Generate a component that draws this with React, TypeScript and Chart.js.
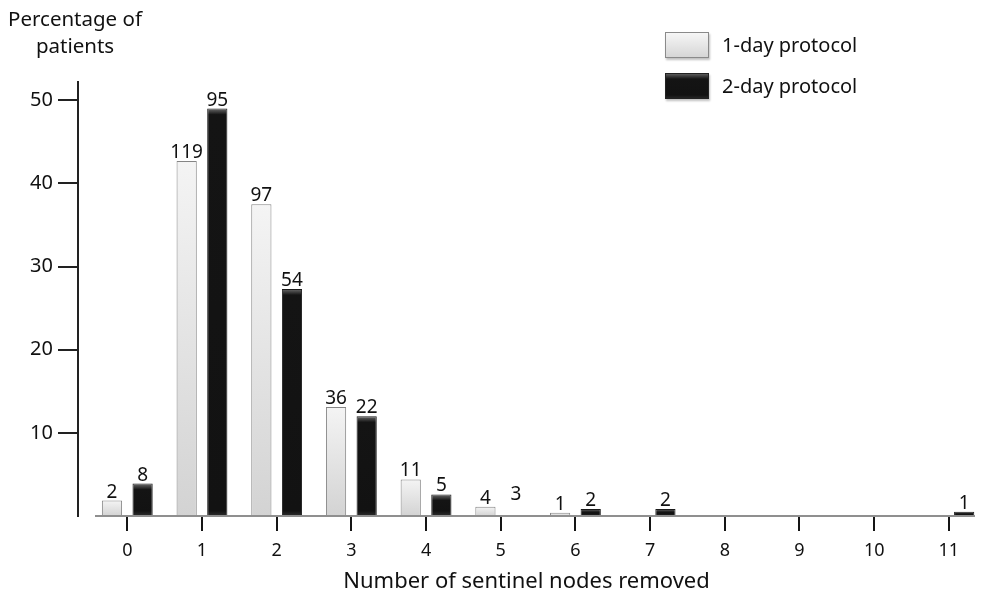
import { useEffect, useRef } from 'react';
import { Chart, registerables } from 'chart.js';

Chart.register(...registerables);

// ---- data ----
const nodeCounts = [0, 1, 2, 3, 4, 5, 6, 7, 8, 9, 10, 11];
const seriesNames = ['1-day protocol', '2-day protocol'];
const oneDayPercent = [1.85, 42.7, 37.5, 13.1, 4.4, 1.1, 0.4, null, null, null, null, null];
const twoDayPercent = [3.9, 49.0, 27.3, 12.0, 2.6, 1.6, 0.85, 0.85, null, null, null, 0.5];
const oneDayPatients = [2, 119, 97, 36, 11, 4, 1, null, null, null, null, null];
const twoDayPatients = [8, 95, 54, 22, 5, 3, 2, 2, null, null, null, 1];
const twoDayUndrawnBars = [5];
const yAxisTitleLines = ['Percentage of', 'patients'];
const xAxisTitle = 'Number of sentinel nodes removed';

const FONT = "'Noto Sans', 'DejaVu Sans', sans-serif";

function lightFill(c: any) {
  const chart = c.chart;
  const v = c.raw;
  if (v == null || !chart.chartArea || !chart.scales.y) return '#e4e4e4';
  const yTop = chart.scales.y.getPixelForValue(v);
  const yBot = chart.scales.y.getPixelForValue(0);
  if (!isFinite(yTop) || !isFinite(yBot) || yBot - yTop < 1) return '#e4e4e4';
  const g = chart.ctx.createLinearGradient(0, yTop, 0, yBot);
  g.addColorStop(0, '#f4f4f4');
  g.addColorStop(1, '#d3d3d3');
  return g;
}

function darkFill(c: any) {
  const chart = c.chart;
  const v = c.raw;
  if (c.dataIndex !== undefined && twoDayUndrawnBars.includes(c.dataIndex)) return 'rgba(0,0,0,0)';
  if (v == null || !chart.chartArea || !chart.scales.y) return '#151515';
  const yTop = chart.scales.y.getPixelForValue(v);
  const yBot = chart.scales.y.getPixelForValue(0);
  const h = yBot - yTop;
  if (!isFinite(h) || h < 1) return '#151515';
  const g = chart.ctx.createLinearGradient(0, yTop, 0, yBot);
  const s = Math.min(0.45, 6 / h);
  g.addColorStop(0, '#6b6b6b');
  g.addColorStop(s, '#141414');
  g.addColorStop(Math.max(s, 1 - Math.min(0.3, 5 / h)), '#121212');
  g.addColorStop(1, '#2e2e2e');
  return g;
}

function darkBorder(c: any) {
  if (c.dataIndex !== undefined && twoDayUndrawnBars.includes(c.dataIndex)) return 'rgba(0,0,0,0)';
  return '#1a1a1a';
}

const annotatePlugin = {
  id: 'annotate',
  beforeDatasetsDraw(chart: any) {
    const { ctx, chartArea, scales } = chart;
    const y0 = scales.y.getPixelForValue(0);
    ctx.save();
    ctx.strokeStyle = '#8f8f8f';
    ctx.lineWidth = 2;
    ctx.beginPath();
    ctx.moveTo(chartArea.left + 17, y0);
    ctx.lineTo(chartArea.right, y0);
    ctx.stroke();
    ctx.restore();
  },
  afterDatasetsDraw(chart: any) {
    const { ctx } = chart;
    const labelSets = [oneDayPatients, twoDayPatients];
    ctx.save();
    ctx.fillStyle = '#111';
    ctx.font = `19px ${FONT}`;
    ctx.textAlign = 'center';
    ctx.textBaseline = 'alphabetic';
    chart.data.datasets.forEach((_ds: any, di: number) => {
      const meta = chart.getDatasetMeta(di);
      meta.data.forEach((el: any, i: number) => {
        const n = labelSets[di][i];
        if (n == null) return;
        ctx.fillText(String(n), el.x, el.y - 3);
      });
    });
    ctx.restore();
  },
};

function Swatch({ dark }: { dark: boolean }) {
  return (
    <div
      style={{
        width: 44,
        height: 26,
        boxSizing: 'border-box',
        border: dark ? '1px solid #222' : '1px solid #8a8a8a',
        background: dark
          ? 'linear-gradient(to bottom, #5a5a5a 0px, #141414 5px, #121212 21px, #303030 26px)'
          : 'linear-gradient(to bottom, #f6f6f6, #d6d6d6)',
        boxShadow: '1px 2px 2px rgba(0,0,0,0.25)',
      }}
    />
  );
}

export default function App() {
  const canvasRef = useRef<HTMLCanvasElement | null>(null);

  useEffect(() => {
    if (!canvasRef.current) return;
    const chart = new Chart(canvasRef.current, {
      type: 'bar',
      data: {
        labels: nodeCounts,
        datasets: [
          {
            label: seriesNames[0],
            data: oneDayPercent as any,
            backgroundColor: lightFill as any,
            borderColor: '#858585',
            borderWidth: 1,
          },
          {
            label: seriesNames[1],
            data: twoDayPercent as any,
            backgroundColor: darkFill as any,
            borderColor: darkBorder as any,
            borderWidth: 1,
          },
        ],
      },
      options: {
        animation: false,
        responsive: false,
        layout: { padding: { top: 82, right: 6, left: 0, bottom: 0 } },
        datasets: { bar: { categoryPercentage: 0.82, barPercentage: 0.66 } },
        plugins: {
          legend: { display: false },
          tooltip: { enabled: false },
        },
        scales: {
          x: {
            type: 'linear',
            min: -0.66,
            max: 11.35,
            offset: false,
            border: { display: false },
            grid: {
              display: true,
              offset: false,
              drawOnChartArea: false,
              drawTicks: true,
              tickLength: 15,
              color: '#151515',
              lineWidth: 2,
            },
            ticks: {
              stepSize: 1,
              includeBounds: false,
              autoSkip: false,
              maxRotation: 0,
              padding: 9,
              color: '#111',
              font: { family: FONT, size: 18 },
            },
            title: {
              display: true,
              text: xAxisTitle,
              color: '#111',
              font: { family: FONT, size: 22, lineHeight: 1.2 },
              padding: { top: 0, bottom: 1 },
            },
            afterFit: (s: any) => {
              s.height = 80;
            },
          } as any,
          y: {
            min: 0,
            max: 52.2,
            border: { display: true, color: '#222', width: 2 },
            grid: {
              drawOnChartArea: false,
              drawTicks: true,
              tickLength: 20,
              lineWidth: 2,
              color: (c: any) => (c.tick && c.tick.value === 0 ? 'rgba(0,0,0,0)' : '#222'),
            },
            ticks: {
              stepSize: 10,
              includeBounds: false,
              padding: 5,
              color: '#111',
              font: { family: FONT, size: 20 },
              callback: (v: any) => (Number(v) === 0 ? '' : String(v)),
            },
            afterFit: (s: any) => {
              s.width = 78;
            },
          } as any,
        },
      },
      plugins: [annotatePlugin],
    });
    return () => chart.destroy();
  }, []);

  return (
    <div
      style={{
        position: 'fixed',
        left: 0,
        top: 0,
        width: 981,
        height: 596,
        background: '#fff',
        fontFamily: FONT,
        color: '#111',
      }}
    >
      <canvas
        ref={canvasRef}
        width={981}
        height={596}
        style={{ position: 'absolute', left: 0, top: 0, width: 981, height: 596 }}
      />
      <div
        style={{
          position: 'absolute',
          left: 0,
          top: 5,
          width: 150,
          textAlign: 'center',
          fontSize: 20.5,
          lineHeight: '27px',
        }}
      >
        {yAxisTitleLines.map((t) => (
          <div key={t}>{t}</div>
        ))}
      </div>
      {seriesNames.map((name, i) => (
        <div
          key={name}
          style={{
            position: 'absolute',
            left: 665,
            top: i === 0 ? 32 : 73,
            display: 'flex',
            alignItems: 'center',
            height: 26,
          }}
        >
          <Swatch dark={i === 1} />
          <span style={{ marginLeft: 13, fontSize: 20, lineHeight: '26px' }}>{name}</span>
        </div>
      ))}
    </div>
  );
}
